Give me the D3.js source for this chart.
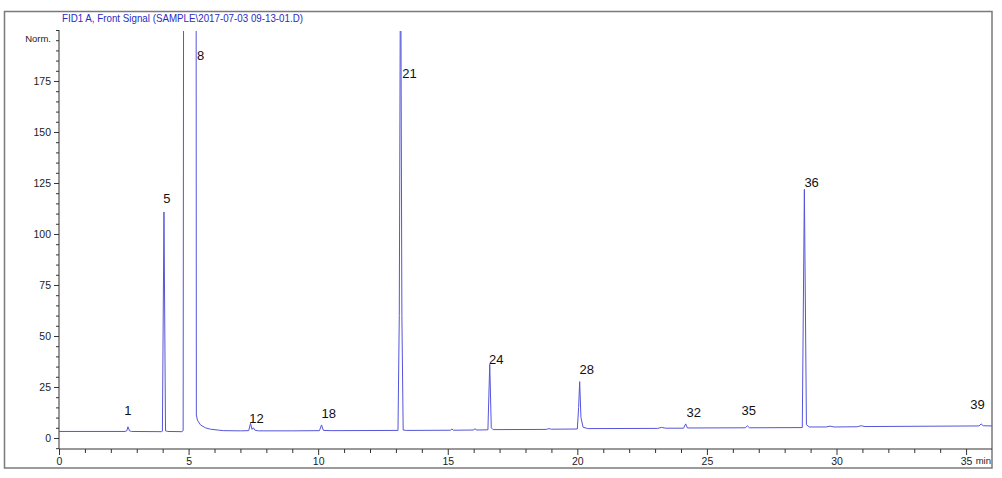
<!DOCTYPE html>
<html>
<head>
<meta charset="utf-8">
<script src="https://cdn.jsdelivr.net/npm/d3@7"></script>
<style>
  html, body { margin: 0; padding: 0; background: #fff; }
  svg { display: block; }
  text { font-family: "Liberation Sans", Arial, sans-serif; }
</style>
</head>
<body>
<svg id="chart" width="1002" height="478"></svg>
<script>
// ---------- data ----------
const titleText = "FID1 A, Front Signal (SAMPLE\\2017-07-03 09-13-01.D)";
const yUnitLabel = "Norm.";
const xUnitLabel = "min";

// detector trace: retention time (min) and signal (Norm.)
const signalTimes = [
  0, 2.55, 2.62, 2.66, 2.72, 2.8, 3.95, 3.99, 4.05, 4.11, 4.2,
  4.74, 4.79, 4.81, 5.29, 5.30, 5.34, 5.46, 5.65, 5.84, 6.34, 7.0,
  7.32, 7.39, 7.45, 7.5, 7.56, 7.7, 9.0, 10.05, 10.13, 10.2, 10.5,
  13.08, 13.13, 13.18, 13.23, 13.28, 13.4, 15.1, 15.16, 15.22,
  16.0, 16.05, 16.1, 16.55, 16.62, 16.68, 16.75, 18.8, 18.9, 19.0,
  20.0, 20.05, 20.09, 20.14, 20.22, 20.4, 23.1, 23.25, 23.4,
  24.1, 24.18, 24.25, 26.48, 26.56, 26.64, 28.68, 28.76, 28.84, 28.95,
  29.6, 29.75, 29.9, 30.8, 30.95, 31.1, 35.5, 35.58, 35.66, 36
];
const signalValues = [
  3.2, 3.2, 3.6, 5.5, 3.5, 3.2, 3.1, 3.3, 110.8, 3.5, 3.2,
  3.1, 3.6, 260, 260, 11.3, 8.8, 6.4, 5.0, 4.3, 3.6, 3.5,
  3.6, 7.2, 4.2, 5.0, 3.8, 3.5, 3.5, 3.6, 6.4, 3.7, 3.6,
  3.7, 60, 260, 60, 3.9, 3.7, 3.8, 4.4, 3.8,
  3.9, 4.6, 3.9, 4.0, 36.1, 5.0, 4.1, 4.2, 4.6, 4.3,
  4.4, 15, 27.6, 10, 5.3, 4.6, 4.7, 5.2, 4.8,
  4.8, 6.9, 4.9, 5.0, 6.0, 5.0, 5.1, 121.9, 6.5, 5.4,
  5.4, 5.8, 5.4, 5.5, 6.0, 5.6, 5.9, 6.9, 6.0, 5.9
];

// peak annotations: peak number, label time and label level (Norm.)
const peakNames  = ["1", "5", "8", "12", "18", "21", "24", "28", "32", "35", "36", "39"];
const peakLabelT = [2.66, 4.16, 5.46, 7.62, 10.41, 13.52, 16.87, 20.36, 24.49, 26.61, 29.04, 35.44];
const peakLabelV = [13.7, 117.2, 187.7, 9.8, 11.8, 178.9, 38.7, 33.8, 12.3, 13.7, 125.5, 16.2];

// axis ticks
const xTickLabels = [0, 5, 10, 15, 20, 25, 30, 35];
const yTickLabels = [0, 25, 50, 75, 100, 125, 150, 175];

// ---------- chart ----------
const svg = d3.select("#chart");
const x = d3.scaleLinear().domain([0, 36]).range([59, 992]);
const y = d3.scaleLinear().domain([-5.4, 200]).range([449, 30]);

// outer frame
svg.append("rect")
  .attr("x", 4.5).attr("y", 11.5).attr("width", 987.5).attr("height", 456.5)
  .attr("fill", "none").attr("stroke", "#7a7a7a").attr("stroke-width", 1.5);

// title
svg.append("text")
  .attr("x", 62).attr("y", 22)
  .attr("font-size", 10.5)
  .attr("fill", "#2b2bc4")
  .attr("textLength", 241).attr("lengthAdjust", "spacingAndGlyphs")
  .text(titleText);

// clip for trace
svg.append("clipPath").attr("id", "plotclip")
  .append("rect")
  .attr("x", x(0)).attr("y", y(200) + 1)
  .attr("width", x(36) - x(0)).attr("height", y(-5.4) - y(200) - 1);

// y axis
const yMinor = d3.range(-5, 201, 5).filter(v => v % 25 !== 0);
const yAxisMajor = d3.axisLeft(y).tickValues(yTickLabels).tickSize(5).tickPadding(3).tickFormat(d3.format("d"));
const yAxisMinor = d3.axisLeft(y).tickValues(yMinor.concat([200])).tickSize(3).tickFormat("");
const gy = svg.append("g").attr("transform", `translate(${x(0)},0)`).call(yAxisMajor);
const gy2 = svg.append("g").attr("transform", `translate(${x(0)},0)`).call(yAxisMinor);
[gy, gy2].forEach(g => {
  g.select(".domain").remove();
  g.selectAll("line").attr("stroke", "#333");
  g.selectAll("text").attr("font-size", 10.5).attr("fill", "#222")
    .attr("font-family", "Liberation Sans, Arial, sans-serif");
});
svg.append("line")
  .attr("x1", x(0)).attr("x2", x(0)).attr("y1", y(200)).attr("y2", y(-5.4))
  .attr("stroke", "#333");
svg.append("text")
  .attr("x", 51).attr("y", 39).attr("dy", "0.35em")
  .attr("text-anchor", "end").attr("font-size", 9.5).attr("fill", "#222")
  .text(yUnitLabel);

// x axis
const xAxisMajor = d3.axisBottom(x).tickValues(xTickLabels).tickSize(6).tickPadding(3).tickFormat(d3.format("d"));
const xAxisMinor = d3.axisBottom(x).tickValues(d3.range(1, 36, 1).filter(v => v % 5 !== 0)).tickSize(4).tickFormat("");
const gx = svg.append("g").attr("transform", `translate(0,${y(-5.4)})`).call(xAxisMajor);
const gx2 = svg.append("g").attr("transform", `translate(0,${y(-5.4)})`).call(xAxisMinor);
[gx, gx2].forEach(g => {
  g.select(".domain").remove();
  g.selectAll("line").attr("stroke", "#333");
  g.selectAll("text").attr("font-size", 10.5).attr("fill", "#222")
    .attr("font-family", "Liberation Sans, Arial, sans-serif");
});
svg.append("line")
  .attr("x1", x(0)).attr("x2", x(36)).attr("y1", y(-5.4)).attr("y2", y(-5.4))
  .attr("stroke", "#333");
svg.append("text")
  .attr("x", x(36) - 1).attr("y", 464)
  .attr("text-anchor", "end").attr("font-size", 9.5).attr("fill", "#222")
  .text(xUnitLabel);

// trace
const pts = signalTimes.map((t, i) => [t, signalValues[i]]);
const line = d3.line().x(d => x(d[0])).y(d => y(d[1]));
svg.append("path")
  .datum(pts)
  .attr("clip-path", "url(#plotclip)")
  .attr("d", line)
  .attr("fill", "none")
  .attr("stroke", "#5555da")
  .attr("stroke-width", 1)
  .attr("stroke-linejoin", "round");

// peak labels
svg.append("g").selectAll("text")
  .data(peakNames)
  .join("text")
  .attr("x", (d, i) => x(peakLabelT[i]))
  .attr("y", (d, i) => y(peakLabelV[i]))
  .attr("dy", "0.35em")
  .attr("text-anchor", "middle")
  .attr("font-size", 13)
  .attr("fill", "#111")
  .text(d => d);
</script>
</body>
</html>
